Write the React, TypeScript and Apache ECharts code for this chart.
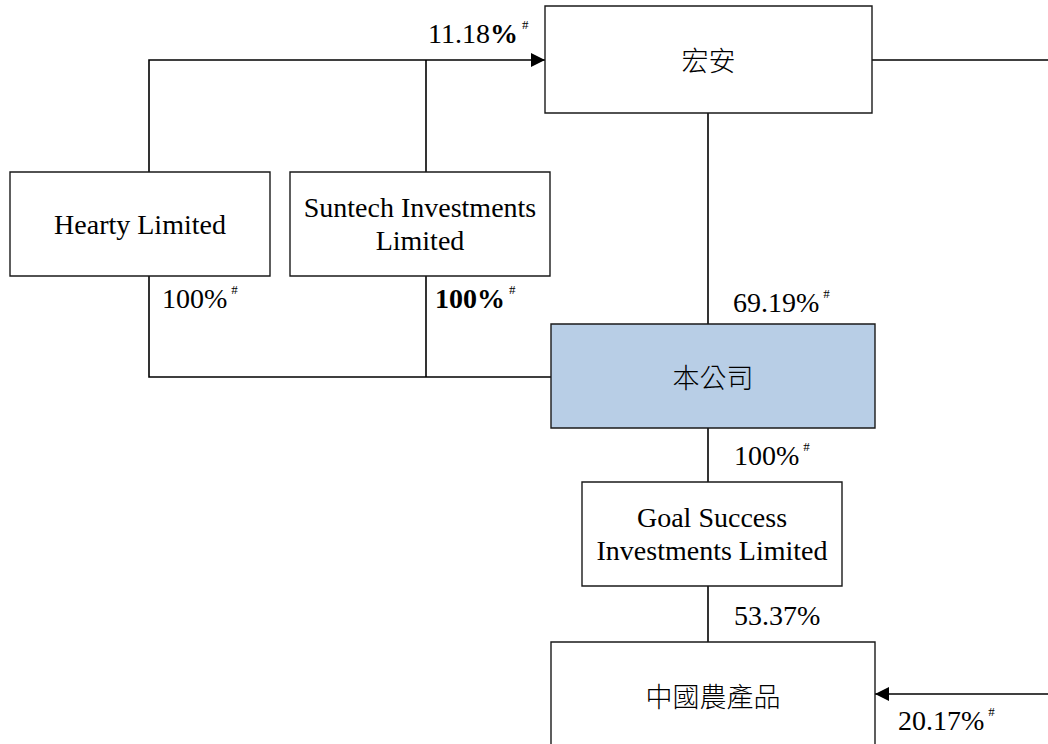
import React, { useEffect, useRef } from "react";
import * as echarts from "echarts";

// ---- data ----
const ENTITIES = [
  "宏安",
  "Hearty Limited",
  "Suntech Investments\nLimited",
  "本公司",
  "Goal Success\nInvestments Limited",
  "中國農產品",
];
const HIGHLIGHT = [false, false, false, true, false, false];
const STAKES = ["11.18", "100", "100", "69.19", "100", "53.37", "20.17"];
const STAKE_HASH = [true, true, true, true, true, false, true];
// which part is set in bold: "none" | "pct" | "all"
const STAKE_BOLD = ["pct", "none", "all", "none", "none", "none", "none"];

// ---- layout (diagram coordinates) ----
const BOX_RECTS = [
  [545, 6, 872, 113],
  [10, 172, 270, 276],
  [290, 172, 550, 276],
  [551, 324, 875, 428],
  [582, 482, 842, 586],
  [551, 642, 875, 748],
];
const LINKS: number[][][] = [
  [[149, 172], [149, 60], [545, 60]],
  [[426, 172], [426, 60]],
  [[872, 60], [1048, 60]],
  [[708, 113], [708, 324]],
  [[149, 276], [149, 377], [551, 377]],
  [[426, 276], [426, 377]],
  [[708, 428], [708, 482]],
  [[708, 586], [708, 642]],
  [[1048, 694], [875, 694]],
];
// arrow tips: [tipX, tipY, direction (1 = pointing right, -1 = pointing left)]
const ARROWS = [
  [545, 60, 1],
  [875, 694, -1],
];
const STAKE_POS = [
  [428, 33],
  [162, 298],
  [435, 298],
  [733, 302],
  [734, 455],
  [734, 615],
  [898, 720],
];

const SERIF = "'Liberation Serif', 'Times New Roman', serif";
const CJK = "'Noto Sans CJK TC', 'Noto Sans CJK SC', sans-serif";

export default function App() {
  const ref = useRef<HTMLDivElement>(null);
  useEffect(() => {
    if (!ref.current) return;
    const chart = echarts.init(ref.current, null, { renderer: "svg" });

    const boxSeries = {
      type: "custom",
      coordinateSystem: "cartesian2d",
      clip: false,
      data: BOX_RECTS.map((r, i) => [...r, i]),
      renderItem: (params: any, api: any) => {
        const i = params.dataIndex;
        const p0 = api.coord([api.value(0), api.value(1)]);
        const p1 = api.coord([api.value(2), api.value(3)]);
        const name = ENTITIES[i];
        const isCjk = /[\u4e00-\u9fff]/.test(name);
        return {
          type: "group",
          children: [
            {
              type: "rect",
              shape: { x: p0[0], y: p0[1], width: p1[0] - p0[0], height: p1[1] - p0[1] },
              style: {
                fill: HIGHLIGHT[i] ? "#b8cee6" : "#ffffff",
                stroke: "#1a1a1a",
                lineWidth: 1.4,
              },
            },
            {
              type: "text",
              style: {
                text: name,
                x: (p0[0] + p1[0]) / 2,
                y: (p0[1] + p1[1]) / 2,
                align: "center",
                verticalAlign: "middle",
                fontFamily: isCjk ? CJK : SERIF,
                fontWeight: isCjk ? 300 : "normal",
                fontSize: isCjk ? 27 : 28,
                lineHeight: 33,
                fill: "#000",
              },
            },
          ],
        };
      },
    };

    const linkSeries = {
      type: "custom",
      coordinateSystem: "cartesian2d",
      clip: false,
      data: LINKS.map((_, i) => [LINKS[i][0][0], LINKS[i][0][1], i]),
      renderItem: (params: any, api: any) => {
        const pts = LINKS[params.dataIndex].map((p) => api.coord(p));
        return {
          type: "polyline",
          shape: { points: pts },
          style: { stroke: "#000", lineWidth: 1.6, fill: "none" },
        };
      },
    };

    const arrowSeries = {
      type: "custom",
      coordinateSystem: "cartesian2d",
      clip: false,
      data: ARROWS,
      renderItem: (params: any, api: any) => {
        const tip = api.coord([api.value(0), api.value(1)]);
        const dir = api.value(2);
        const len = 14;
        const hw = 7;
        return {
          type: "polygon",
          shape: {
            points: [
              tip,
              [tip[0] - dir * len, tip[1] - hw],
              [tip[0] - dir * len, tip[1] + hw],
            ],
          },
          style: { fill: "#000" },
        };
      },
    };

    const stakeSeries = {
      type: "custom",
      coordinateSystem: "cartesian2d",
      clip: false,
      data: STAKE_POS.map((p, i) => [p[0], p[1], i]),
      renderItem: (params: any, api: any) => {
        const i = params.dataIndex;
        const p = api.coord([api.value(0), api.value(1)]);
        const b = STAKE_BOLD[i];
        let txt = "";
        if (b === "all") txt = `{b|${STAKES[i]}%}`;
        else if (b === "pct") txt = `{n|${STAKES[i]}}{b|%}`;
        else txt = `{n|${STAKES[i]}%}`;
        if (STAKE_HASH[i]) txt += `{s|#}`;
        return {
          type: "text",
          style: {
            text: txt,
            x: p[0],
            y: p[1],
            align: "left",
            verticalAlign: "middle",
            fill: "#000",
            rich: {
              n: { fontFamily: SERIF, fontSize: 28, lineHeight: 30, fill: "#000" },
              b: { fontFamily: SERIF, fontSize: 28, fontWeight: "bold", lineHeight: 30, fill: "#000" },
              s: {
                fontFamily: SERIF,
                fontSize: 13,
                lineHeight: 30,
                verticalAlign: "top",
                padding: [0, 0, 0, 4],
                fill: "#000",
              },
            },
          },
        };
      },
    };

    chart.setOption({
      animation: false,
      backgroundColor: "#ffffff",
      grid: { left: 0, right: 0, top: 0, bottom: 0 },
      xAxis: { type: "value", min: 0, max: 1048, show: false },
      yAxis: { type: "value", min: 0, max: 744, inverse: true, show: false },
      series: [linkSeries, arrowSeries, boxSeries, stakeSeries],
    });
    return () => chart.dispose();
  }, []);
  return (
    <div
      ref={ref}
      style={{ position: "fixed", left: 0, top: 0, width: 1048, height: 744, background: "#fff" }}
    />
  );
}
